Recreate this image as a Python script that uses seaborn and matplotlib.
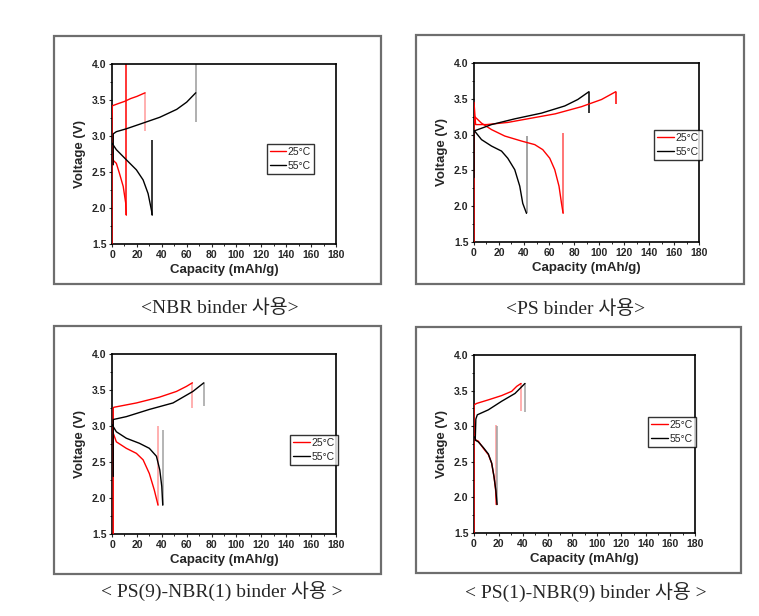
import numpy as np
import pandas as pd
import matplotlib
matplotlib.use("Agg")
import matplotlib.pyplot as plt
import seaborn as sns
from matplotlib.patches import Rectangle
from matplotlib.lines import Line2D
from matplotlib.ticker import MultipleLocator

sns.set_style("ticks")
plt.rcParams["font.family"] = ["Liberation Sans Narrow", "Liberation Sans", "DejaVu Sans"]

temps = ["25°C", "55°C"]
captions = ["<NBR binder 사용>", "<PS binder 사용>",
            "< PS(9)-NBR(1) binder 사용 >", "< PS(1)-NBR(9) binder 사용 >"]
x_ticks = [0, 20, 40, 60, 80, 100, 120, 140, 160, 180]
y_ticks = [1.5, 2.0, 2.5, 3.0, 3.5, 4.0]

# ---- Panel 1: NBR binder ----
p1_chg25_x = [0, 0, 0.3, 5, 10, 15, 20, 26.6]
p1_chg25_v = [1.5, 3.2, 3.42, 3.45, 3.48, 3.52, 3.55, 3.6]
p1_dis25_x = [0, 0.5, 3.5, 6, 9, 11, 11.5]
p1_dis25_v = [2.75, 2.67, 2.62, 2.48, 2.3, 2.07, 1.9]
p1_chg55_x = [1, 1, 3.5, 11.5, 25, 38.4, 52, 60, 67.3]
p1_chg55_v = [2.6, 3.03, 3.06, 3.1, 3.18, 3.26, 3.37, 3.47, 3.6]
p1_dis55_x = [0, 3.5, 11.5, 19.6, 25, 29, 31.7, 32.3]
p1_dis55_v = [2.9, 2.81, 2.67, 2.53, 2.39, 2.2, 1.97, 1.9]
p1_rest_x = [26.6, 11.5, 67.5, 32.3]
p1_rest_lo = [3.07, 1.9, 3.2, 1.9]
p1_rest_hi = [3.6, 4.0, 4.0, 2.95]

# ---- Panel 2: PS binder ----
p2_chg25_x = [0, 0, 1.3, 10, 27, 46, 65, 86, 102, 113.5]
p2_chg25_v = [1.5, 3.45, 3.14, 3.14, 3.17, 3.23, 3.29, 3.39, 3.49, 3.6]
p2_dis25_x = [0, 6, 14, 24.6, 38, 48.6, 55, 60.6, 64.6, 68, 70, 71.3]
p2_dis25_v = [3.26, 3.16, 3.07, 2.98, 2.91, 2.86, 2.79, 2.67, 2.51, 2.28, 2.04, 1.9]
p2_chg55_x = [0, 0, 14, 32.6, 54, 72.6, 83, 92]
p2_chg55_v = [2.4, 3.05, 3.14, 3.22, 3.30, 3.40, 3.49, 3.6]
p2_dis55_x = [0.5, 6, 14, 22, 27, 32.6, 36.6, 39, 42]
p2_dis55_v = [3.05, 2.93, 2.84, 2.77, 2.67, 2.51, 2.28, 2.04, 1.9]
p2_rest_x = [113.5, 71.3, 92, 42]
p2_rest_lo = [3.43, 1.9, 3.3, 1.9]
p2_rest_hi = [3.6, 3.02, 3.6, 2.98]

# ---- Panel 3: PS(9)-NBR(1) binder ----
p3_chg25_x = [1, 1, 1.5, 19.6, 38, 51.8, 59.8, 64.6]
p3_chg25_v = [1.5, 3.25, 3.26, 3.32, 3.40, 3.48, 3.55, 3.6]
p3_dis25_x = [0.5, 1, 3.5, 11.5, 19.6, 25, 30, 34, 37]
p3_dis25_v = [3.0, 2.9, 2.78, 2.69, 2.62, 2.53, 2.34, 2.11, 1.9]
p3_chg55_x = [1, 1, 11.5, 30, 49, 65, 73.8]
p3_chg55_v = [2.3, 3.09, 3.13, 3.23, 3.32, 3.48, 3.6]
p3_dis55_x = [0, 3.5, 11.5, 22, 30, 35.7, 38.4, 40, 40.8]
p3_dis55_v = [3.02, 2.92, 2.83, 2.76, 2.69, 2.58, 2.39, 2.16, 1.9]
p3_rest_x = [64.6, 74, 37, 40.8]
p3_rest_lo = [3.25, 3.28, 1.9, 1.9]
p3_rest_hi = [3.6, 3.6, 3.0, 2.95]

# ---- Panel 4: PS(1)-NBR(9) binder ----
p4_chg25_x = [0, 0, 2.2, 11.7, 22.5, 30.7, 34.8, 38.3]
p4_chg25_v = [1.5, 3.3, 3.32, 3.37, 3.43, 3.49, 3.56, 3.6]
p4_dis25_x = [0, 0.8, 3.5, 7.6, 11.7, 14.4, 16.3, 17.6, 18.3]
p4_dis25_v = [2.9, 2.81, 2.79, 2.69, 2.6, 2.48, 2.29, 2.1, 1.9]
p4_chg55_x = [1, 1.5, 2.7, 11.7, 22.5, 33.4, 41.5]
p4_chg55_v = [2.8, 3.1, 3.16, 3.23, 3.35, 3.46, 3.6]
p4_dis55_x = [0.5, 1.5, 3.5, 7.6, 11.7, 14.4, 16.3, 17.8, 18.8]
p4_dis55_v = [2.85, 2.8, 2.78, 2.7, 2.61, 2.48, 2.29, 2.1, 1.9]
p4_rest_x = [38.3, 41.5, 18.3, 18.9]
p4_rest_lo = [3.22, 3.2, 1.9, 1.9]
p4_rest_hi = [3.6, 3.6, 3.02, 3.0]

panels = [
    (p1_chg25_x, p1_chg25_v, p1_dis25_x, p1_dis25_v, p1_chg55_x, p1_chg55_v, p1_dis55_x, p1_dis55_v,
     p1_rest_x, p1_rest_lo, p1_rest_hi),
    (p2_chg25_x, p2_chg25_v, p2_dis25_x, p2_dis25_v, p2_chg55_x, p2_chg55_v, p2_dis55_x, p2_dis55_v,
     p2_rest_x, p2_rest_lo, p2_rest_hi),
    (p3_chg25_x, p3_chg25_v, p3_dis25_x, p3_dis25_v, p3_chg55_x, p3_chg55_v, p3_dis55_x, p3_dis55_v,
     p3_rest_x, p3_rest_lo, p3_rest_hi),
    (p4_chg25_x, p4_chg25_v, p4_dis25_x, p4_dis25_v, p4_chg55_x, p4_chg55_v, p4_dis55_x, p4_dis55_v,
     p4_rest_x, p4_rest_lo, p4_rest_hi),
]

# styling / layout (pixels in a 759x616 canvas)
W, H = 759, 616
rest_colors = [
    ["#ff9a9a", "#ff0000", "#9a9a9a", "#000000"],
    ["#ff0000", "#ff5050", "#000000", "#8a8a8a"],
    ["#ff9a9a", "#a0a0a0", "#ff9a9a", "#a0a0a0"],
    ["#ff9a9a", "#a0a0a0", "#ff9a9a", "#a0a0a0"],
]
axes_px = [(112, 64, 336, 244), (474, 63, 699, 242), (112, 354, 336, 534), (474, 355, 695, 533)]
frames_px = [(54, 36, 381, 284), (416, 35, 744, 284), (54, 326, 381, 574), (416, 327, 741, 573)]
caption_px = [(220, 308), (576, 309), (222, 591), (586, 592)]
legend_anchor = [(0.69, 0.556), (0.80, 0.626), (0.795, 0.55), (0.787, 0.652)]
palette = {"25°C": "#ff0000", "55°C": "#000000"}

fig = plt.figure(figsize=(W / 100, H / 100), dpi=100)

for (fx0, fy0, fx1, fy1) in frames_px:
    fig.patches.append(Rectangle((fx0 / W, 1 - fy1 / H), (fx1 - fx0) / W, (fy1 - fy0) / H,
                                 transform=fig.transFigure, fill=False,
                                 edgecolor="#6e6e6e", linewidth=1.6))

for i, pdata in enumerate(panels):
    (c25x, c25v, d25x, d25v, c55x, c55v, d55x, d55v, rx, rlo, rhi) = pdata
    rows = []
    for temp, step, xs, vs in [(temps[0], "chg25", c25x, c25v), (temps[0], "dis25", d25x, d25v),
                               (temps[1], "chg55", c55x, c55v), (temps[1], "dis55", d55x, d55v)]:
        for k, (xx, vv) in enumerate(zip(xs, vs)):
            rows.append({"temp": temp, "step": step, "order": k, "cap": xx, "volt": vv})
    df = pd.DataFrame(rows)

    x0, y0, x1, y1 = axes_px[i]
    ax = fig.add_axes([x0 / W, 1 - y1 / H, (x1 - x0) / W, (y1 - y0) / H])
    ax.vlines(rx, rlo, rhi, colors=rest_colors[i], linewidth=1.1, zorder=2)
    sns.lineplot(data=df, x="cap", y="volt", hue="temp", units="step", estimator=None,
                 sort=False, palette=palette, linewidth=1.0, legend=False, ax=ax, zorder=3)

    ax.set_xlim(0, 180)
    ax.set_ylim(1.5, 4.0)
    ax.set_xticks(x_ticks)
    ax.set_yticks(y_ticks)
    ax.xaxis.set_minor_locator(MultipleLocator(10))
    ax.yaxis.set_minor_locator(MultipleLocator(0.25))
    ax.set_xticklabels([str(t) for t in x_ticks])
    ax.set_yticklabels(["%.1f" % t for t in y_ticks])
    ax.tick_params(which="major", direction="out", length=2.5, width=0.8, labelsize=7.5, pad=1.5)
    ax.tick_params(which="minor", direction="out", length=1.5, width=0.7)
    for lab in ax.get_xticklabels() + ax.get_yticklabels():
        lab.set_fontweight("bold")
    for sp in ax.spines.values():
        sp.set_visible(True)
        sp.set_linewidth(1.2)
        sp.set_color("black")
    ax.set_xlabel("Capacity (mAh/g)", fontsize=9.5, fontweight="bold", labelpad=3)
    ax.set_ylabel("Voltage (V)", fontsize=9.5, fontweight="bold", labelpad=4)

    handles = [Line2D([], [], color=palette[t], linewidth=1.0) for t in temps]
    leg = ax.legend(handles, temps, loc="upper left", bbox_to_anchor=legend_anchor[i],
                    frameon=True, fancybox=False, shadow=False, fontsize=7.5,
                    handlelength=1.6, handletextpad=0.15, borderpad=0.3,
                    labelspacing=0.35, borderaxespad=0)
    leg.get_frame().set_edgecolor("black")
    leg.get_frame().set_linewidth(1.0)

    cx, cy = caption_px[i]
    fig.text(cx / W, 1 - cy / H, captions[i], ha="center", va="center", fontsize=14,
             family=["Liberation Serif", "Noto Sans CJK KR"])

fig.savefig("out.png", dpi=100)
